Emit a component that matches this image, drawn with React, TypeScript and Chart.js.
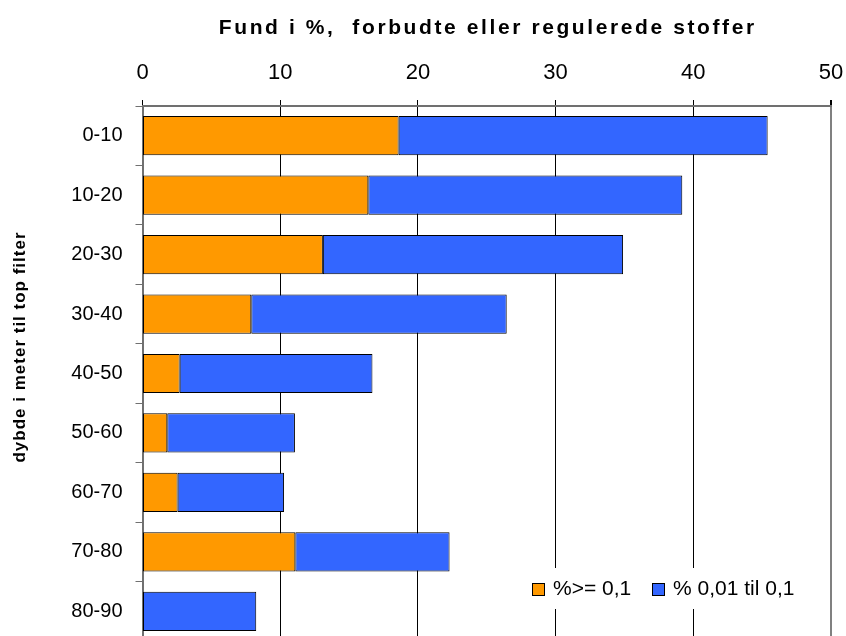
import React, { useEffect, useRef } from "react";
import { Chart, registerables } from "chart.js";

Chart.register(...registerables);

const categories = ["0-10", "10-20", "20-30", "30-40", "40-50", "50-60", "60-70", "70-80", "80-90"];
const seriesHigh = [18.6, 16.4, 13.1, 7.9, 2.7, 1.8, 2.55, 11.1, 0];
const seriesLow = [26.8, 22.8, 21.8, 18.55, 14.0, 9.27, 7.73, 11.2, 8.26];
const seriesNames = ["%>= 0,1", "% 0,01 til 0,1"];
const chartTitle = "Fund i %,  forbudte eller regulerede stoffer";
const yTitle = "dybde i meter til top filter";
const xMin = 0;
const xMax = 50;
const xStep = 10;

const FONT = "'Liberation Sans', Arial, sans-serif";
const ORANGE = "#FF9900";
const BLUE = "#3366FF";

const overlayPlugin = {
  id: "overlay",
  afterDraw(chart: any) {
    const ctx = chart.ctx as CanvasRenderingContext2D;
    const area = chart.chartArea;
    // main title
    ctx.save();
    ctx.fillStyle = "#000";
    ctx.font = `bold 21px ${FONT}`;
    (ctx as any).letterSpacing = "2.6px";
    ctx.textAlign = "center";
    ctx.textBaseline = "alphabetic";
    ctx.fillText(chartTitle, (area.left + area.right) / 2 + 1, 34);
    ctx.restore();

    // y title
    ctx.save();
    ctx.fillStyle = "#000";
    ctx.font = `bold 17px ${FONT}`;
    (ctx as any).letterSpacing = "1px";
    ctx.translate(25, 347);
    ctx.rotate(-Math.PI / 2);
    ctx.textAlign = "center";
    ctx.textBaseline = "alphabetic";
    ctx.fillText(yTitle, 0, 0);
    ctx.restore();

    // legend
    ctx.save();
    ctx.fillStyle = "#fff";
    ctx.fillRect(524, 568, 296, 41);
    const items = [
      { color: ORANGE, x: 532, tx: 553, label: seriesNames[0] },
      { color: BLUE, x: 652, tx: 673, label: seriesNames[1] },
    ];
    ctx.font = `21px ${FONT}`;
    ctx.textBaseline = "middle";
    ctx.textAlign = "left";
    for (const it of items) {
      ctx.fillStyle = it.color;
      ctx.fillRect(it.x, 583, 13, 13);
      ctx.strokeStyle = "#000";
      ctx.lineWidth = 1;
      ctx.strokeRect(it.x + 0.5, 583.5, 12, 12);
      ctx.fillStyle = "#000";
      ctx.fillText(it.label, it.tx, 589);
    }
    ctx.restore();
  },
};

export default function App() {
  const canvasRef = useRef<HTMLCanvasElement | null>(null);

  useEffect(() => {
    if (!canvasRef.current) return;
    const chart = new Chart(canvasRef.current, {
      type: "bar",
      data: {
        labels: categories,
        datasets: [
          {
            label: seriesNames[0],
            data: seriesHigh,
            backgroundColor: ORANGE,
            borderColor: "#000",
            borderWidth: 1,
            borderSkipped: false,
            barPercentage: 0.66,
            categoryPercentage: 1,
          },
          {
            label: seriesNames[1],
            data: seriesLow,
            backgroundColor: BLUE,
            borderColor: "#000",
            borderWidth: 1,
            borderSkipped: false,
            barPercentage: 0.66,
            categoryPercentage: 1,
          },
        ],
      },
      options: {
        indexAxis: "y",
        responsive: false,
        animation: false,
        layout: { padding: { left: 0, top: 0, right: 15, bottom: 19 } },
        plugins: {
          legend: { display: false },
          title: { display: false },
          tooltip: { enabled: false },
        },
        scales: {
          x: {
            position: "top",
            stacked: true,
            min: xMin,
            max: xMax,
            ticks: {
              stepSize: xStep,
              color: "#000",
              font: { family: FONT, size: 22 },
              padding: 14,
            },
            grid: {
              color: (c: any) => (c.tick && c.tick.value === xMax ? "#808080" : "#000"),
              lineWidth: (c: any) => (c.tick && c.tick.value === xMax ? 2 : 1),
              tickColor: "#000",
              tickLength: 6,
            },
            border: { color: "#707070", width: 2 },
            afterFit: (scale: any) => {
              scale.height = 106;
              scale.paddingLeft = 0;
              scale.paddingRight = 0;
              scale.paddingTop = 0;
              scale.paddingBottom = 0;
            },
          },
          y: {
            stacked: true,
            ticks: {
              color: "#000",
              font: { family: FONT, size: 20 },
              padding: 13,
            },
            grid: {
              drawOnChartArea: false,
              drawTicks: true,
              tickLength: 7,
              tickColor: "#707070",
              color: "#707070",
            },
            border: { color: "#707070", width: 2 },
            afterFit: (scale: any) => {
              scale.width = 142.5;
              scale.paddingLeft = 0;
              scale.paddingRight = 0;
              scale.paddingTop = 0;
              scale.paddingBottom = 0;
            },
          },
        },
      },
      plugins: [overlayPlugin],
    });
    return () => chart.destroy();
  }, []);

  return (
    <div
      style={{
        position: "fixed",
        left: 0,
        top: 0,
        width: 846,
        height: 636,
        overflow: "hidden",
        background: "#fff",
      }}
    >
      <canvas ref={canvasRef} width={846} height={660} style={{ display: "block" }} />
    </div>
  );
}
